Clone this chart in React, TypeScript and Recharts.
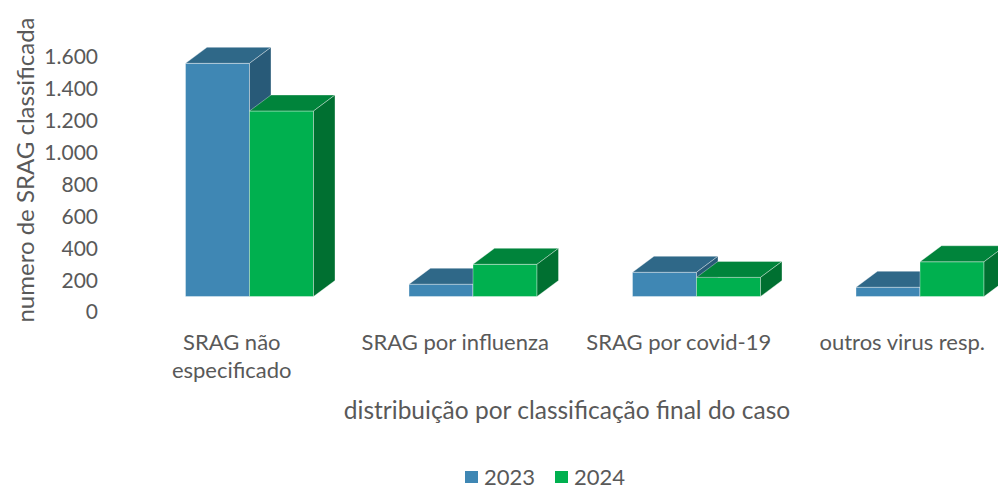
import { BarChart, Bar, XAxis, YAxis, Legend } from "recharts";

const categories = [
  "SRAG não especificado",
  "SRAG por influenza",
  "SRAG por covid-19",
  "outros virus resp.",
];
const values2023 = [1463, 77, 152, 58];
const values2024 = [1164, 202, 120, 218];
const yTicks = [0, 200, 400, 600, 800, 1000, 1200, 1400, 1600];
const seriesNames = ["2023", "2024"];

const data = categories.map((c, i) => ({
  category: c,
  y2023: values2023[i],
  y2024: values2024[i],
}));

const TEXT = "#595959";
const FONT = "Lato, 'Open Sans', sans-serif";

// front / top / side shades of each series
const palette = {
  y2023: { front: "#3f87b4", top: "#2f6888", side: "#285a78" },
  y2024: { front: "#00b04f", top: "#00843b", side: "#007031" },
};

// oblique 3D look: bars sit behind the axis plane, with some depth
const SHIFT_X = 17.5;
const SHIFT_Y = 15.5;
const DEPTH_X = 21.5;
const DEPTH_Y = 16;

const fmt = (v: number) => String(v).replace(/\B(?=(\d{3})+(?!\d))/g, ".");

function wrap(text: string, max = 18) {
  const words = text.split(" ");
  const lines: string[] = [];
  let cur = "";
  for (const w of words) {
    const next = cur ? cur + " " + w : w;
    if (next.length > max && cur) {
      lines.push(cur);
      cur = w;
    } else cur = next;
  }
  if (cur) lines.push(cur);
  return lines;
}

function Box3D(props: any) {
  const { x, y, width, height, colors } = props;
  if (height == null || width == null) return null;
  const fx = x + SHIFT_X;
  const fy = y - SHIFT_Y;
  const w = width;
  const h = height;
  const edge = { stroke: "rgba(255,255,255,0.35)", strokeWidth: 1 };
  return (
    <g>
      <rect x={fx} y={fy} width={w} height={h} fill={colors.front} {...edge} />
      <polygon
        points={`${fx},${fy} ${fx + w},${fy} ${fx + w + DEPTH_X},${fy - DEPTH_Y} ${fx + DEPTH_X},${fy - DEPTH_Y}`}
        fill={colors.top}
        {...edge}
      />
      <polygon
        points={`${fx + w},${fy} ${fx + w + DEPTH_X},${fy - DEPTH_Y} ${fx + w + DEPTH_X},${fy + h - DEPTH_Y} ${fx + w},${fy + h}`}
        fill={colors.side}
        {...edge}
      />
    </g>
  );
}

function CategoryTick({ x, y, payload }: any) {
  const lines = wrap(payload.value);
  return (
    <text x={x} y={y} textAnchor="middle" fill={TEXT} fontSize={22} fontFamily={FONT}>
      {lines.map((l, i) => (
        <tspan key={i} x={x} y={y + 36 + i * 28}>
          {l}
        </tspan>
      ))}
    </text>
  );
}

function LegendContent() {
  const items = [
    { name: seriesNames[0], color: palette.y2023.front },
    { name: seriesNames[1], color: palette.y2024.front },
  ];
  return (
    <div
      style={{
        display: "flex",
        justifyContent: "center",
        gap: 20,
        paddingLeft: 76,
        paddingTop: 4,
        fontFamily: FONT,
        fontSize: 22,
        lineHeight: "20px",
        color: TEXT,
      }}
    >
      {items.map((it) => (
        <div key={it.name} style={{ display: "flex", alignItems: "center", gap: 6 }}>
          <span style={{ width: 13, height: 12, background: it.color, display: "inline-block" }} />
          <span>{it.name}</span>
        </div>
      ))}
    </div>
  );
}

export default function App() {
  return (
    <div
      style={{
        position: "fixed",
        left: 0,
        top: 0,
        width: 998,
        height: 491,
        overflow: "hidden",
        background: "#fff",
      }}
    >
      <BarChart
        width={1030}
        height={491}
        data={data}
        margin={{ top: 57, right: 16, bottom: 0, left: 0 }}
        barGap={0}
      >
        <XAxis
          dataKey="category"
          axisLine={false}
          tickLine={false}
          tickSize={0}
          height={151}
          interval={0}
          tick={<CategoryTick />}
          label={{
            content: (p: any) => {
              const vb = p.viewBox;
              return (
                <text
                  x={vb.x + vb.width / 2}
                  y={vb.y + 107}
                  textAnchor="middle"
                  fill={TEXT}
                  fontSize={24.5}
                  fontFamily={FONT}
                >
                  distribuição por classificação final do caso
                </text>
              );
            },
          }}
        />
        <YAxis
          width={120}
          domain={[0, 1600]}
          ticks={yTicks}
          axisLine={false}
          tickLine={false}
          tickSize={0}
          tickMargin={22}
          tickFormatter={fmt}
          tick={{ fill: TEXT, fontSize: 21, fontFamily: FONT }}
          label={{
            content: () => (
              <text
                x={24}
                y={170}
                transform="rotate(-90 24 170)"
                textAnchor="middle"
                dominantBaseline="central"
                fill={TEXT}
                fontSize={24}
                fontFamily={FONT}
              >
                numero de SRAG classificada
              </text>
            ),
          }}
        />
        <Legend verticalAlign="bottom" height={28} content={<LegendContent />} />
        <Bar
          dataKey="y2023"
          name={seriesNames[0]}
          barSize={64}
          isAnimationActive={false}
          shape={(p: any) => <Box3D {...p} colors={palette.y2023} />}
        />
        <Bar
          dataKey="y2024"
          name={seriesNames[1]}
          barSize={64}
          isAnimationActive={false}
          shape={(p: any) => <Box3D {...p} colors={palette.y2024} />}
        />
      </BarChart>
    </div>
  );
}
